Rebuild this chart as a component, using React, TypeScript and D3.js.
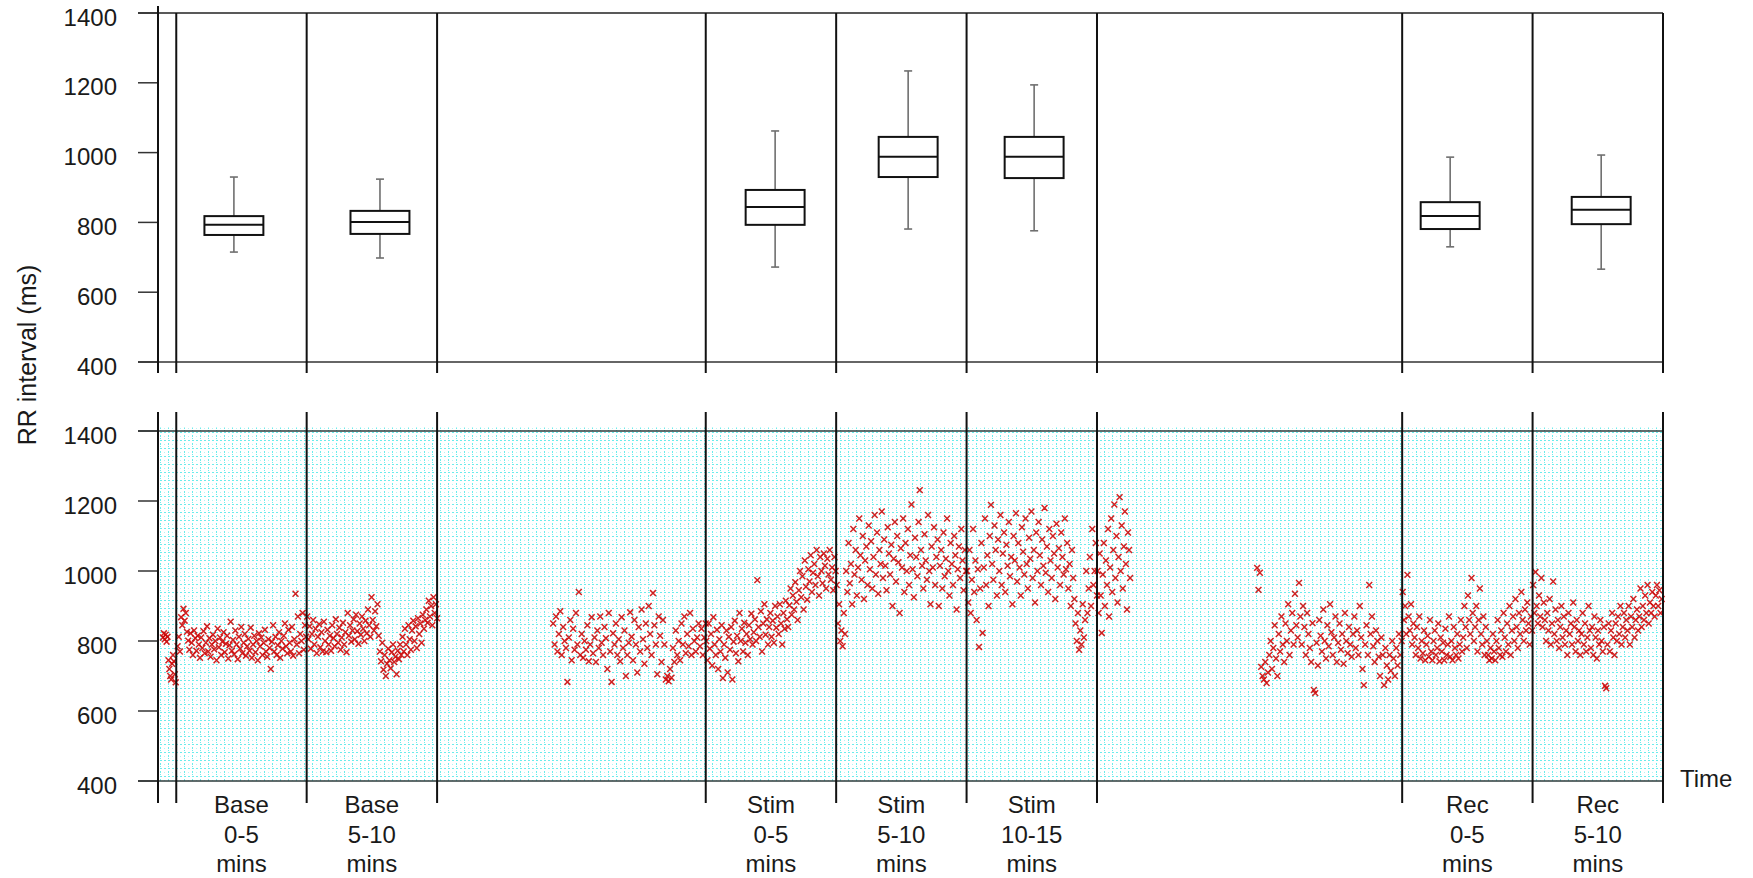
import React from "react";
import * as d3 from "d3";

// ---------- data ----------
const yTicks = [400, 600, 800, 1000, 1200, 1400];
// period boundaries (minutes on the time axis)
const boundaries = [0, 5, 10, 20.3, 25.3, 30.3, 35.3, 47, 52, 57];
const timeStart = -0.7;
const timeEnd = 57;

const labelStart = [0, 5, 20.3, 25.3, 30.3, 47, 52];
const labelEnd = [5, 10, 25.3, 30.3, 35.3, 52, 57];
const labelLine1 = ["Base", "Base", "Stim", "Stim", "Stim", "Rec", "Rec"];
const labelLine2 = ["0-5", "5-10", "0-5", "5-10", "10-15", "0-5", "5-10"];
const labelLine3 = ["mins", "mins", "mins", "mins", "mins", "mins", "mins"];

// box plots (ms)
const boxTime = [2.21, 7.81, 22.96, 28.06, 32.89, 48.84, 54.63];
const boxMin = [715, 698, 672, 781, 776, 730, 666];
const boxQ1 = [764, 767, 793, 930, 927, 781, 795];
const boxMedian = [793, 801, 844, 988, 988, 818, 836];
const boxQ3 = [818, 833, 893, 1045, 1045, 858, 873];
const boxMax = [930, 924, 1062, 1234, 1194, 987, 993];

// RR series per recording stretch (ms), start/end in minutes
const regionStart = [-0.51, 0.05, 5.02, 14.45, 20.32, 25.32, 30.32, 35.32, 41.44, 47.02, 52.02];
const regionEnd = [-0.02, 4.98, 10.0, 20.3, 25.28, 30.28, 35.3, 36.57, 46.98, 51.98, 56.95];

const rrPre = [810, 822, 805, 818, 798, 812, 745, 720, 700, 690, 735, 760, 742, 705, 682];
const rrBase1 = [
  785, 812, 770, 868, 845, 892, 858, 880, 826, 801,
  775, 822, 795, 760, 830, 808, 772, 815, 790, 752,
  810, 780, 828, 765, 795, 842, 770, 808, 755, 790,
  818, 776, 800, 745, 835, 782, 810, 760, 798, 825,
  768, 792, 815, 750, 788, 855, 772, 803, 762, 830,
  790, 748, 812, 778, 840, 765, 795, 820, 758, 785,
  806, 772, 838, 752, 790, 815, 768, 800, 745, 822,
  785, 810, 760, 795, 832, 770, 755, 805, 780, 720,
  798, 845, 770, 812, 760, 788, 825, 752, 800, 778,
  815, 850, 785, 765, 832, 795, 770, 840, 758, 805,
  935, 790, 870, 765, 820, 800, 880, 775, 845, 812,
];
const rrBase2 = [
  870, 805, 842, 778, 820, 860, 790, 835, 765, 812,
  848, 782, 825, 770, 855, 800, 768, 832, 790, 815,
  772, 845, 808, 785, 862, 820, 795, 838, 775, 810,
  852, 790, 825, 768, 880, 815, 845, 798, 830, 862,
  805, 875, 828, 792, 850, 818, 870, 835, 800, 858,
  822, 890, 845, 812, 925, 860, 830, 885, 842, 905,
  815, 770, 742, 795, 718, 760, 700, 735, 778, 745,
  722, 768, 790, 740, 755, 705, 772, 748, 790, 760,
  812, 770, 835, 790, 760, 845, 805, 775, 830, 858,
  800, 842, 780, 865, 820, 850, 795, 875, 835, 860,
  890, 852, 915, 870, 900, 845, 925, 880, 905, 865,
];
const rrPreStim = [
  850, 790, 870, 770, 820, 885, 760, 840, 800, 780,
  683, 810, 860, 745, 835, 775, 880, 790, 940, 760,
  820, 752, 800, 775, 845, 742, 790, 868, 765, 810,
  740, 830, 780, 870, 795, 760, 840, 808, 720, 880,
  770, 683, 822, 790, 850, 760, 805, 742, 868, 780,
  830, 700, 760, 795, 882, 812, 745, 860, 790, 710,
  840, 770, 890, 805, 735, 850, 780, 900, 820, 760,
  937, 845, 790, 705, 870, 815, 740, 860, 790, 690,
  700, 685, 720, 695, 780, 740, 830, 760, 800, 745,
  850, 790, 870, 765, 820, 785, 880, 760, 835, 800,
  770, 810, 850, 785, 835, 760, 810, 850,
];
const rrStim1 = [
  800, 745, 850, 778, 820, 730, 868, 790, 760, 832,
  720, 805, 770, 845, 694, 790, 752, 830, 710, 812,
  775, 840, 690, 798, 858, 765, 815, 742, 880, 800,
  835, 770, 852, 795, 820, 760, 845, 805, 878, 790,
  825, 862, 800, 974, 840, 812, 885, 770, 850, 905,
  818, 862, 790, 840, 880, 812, 858, 795, 900, 838,
  870, 820, 905, 850, 790, 880, 835, 915, 862, 840,
  902, 950, 875, 930, 890, 968, 912, 860, 945, 1000,
  925, 985, 890, 1030, 955, 918, 1005, 970, 1045, 940,
  995, 1020, 960, 1060, 985, 930, 1040, 1000, 965, 1050,
  1015, 950, 1035, 990, 1060, 975, 1010, 945, 1040, 1000,
];
const rrStim2 = [
  960, 850, 905, 800, 830, 785, 880, 820, 1000, 940,
  1080, 965, 1020, 905, 1120, 990, 1060, 930, 1010, 1150,
  1045, 975, 1100, 920, 1030, 1070, 960, 1130, 1005, 1085,
  950, 1040, 1160, 990, 1110, 935, 1060, 1020, 1170, 980,
  1090, 1015, 945, 1125, 1050, 990, 1075, 900, 1035, 1140,
  970, 1100, 1025, 880, 1065, 1010, 1150, 940, 1080, 1000,
  1120, 960, 1045, 1190, 1005, 925, 1095, 1040, 985, 1140,
  1231, 1060, 1015, 950, 1105, 1030, 975, 1160, 1000, 905,
  1070, 1010, 1125, 960, 1040, 1090, 900, 1015, 1060, 950,
  1110, 985, 1035, 1150, 1000, 930, 1080, 1020, 960, 1100,
  1045, 890, 1005, 1070, 980, 1120, 1030, 945, 1060, 1000,
];
const rrStim3 = [
  1000, 910, 1060, 880, 975, 1120, 940, 1030, 860, 1005,
  783, 950, 1080, 823, 1010, 1150, 960, 1045, 900, 1100,
  1189, 1020, 975, 1130, 1060, 930, 1090, 1000, 1160, 960,
  1050, 1110, 940, 1075, 1015, 1140, 985, 1040, 905, 1100,
  1030, 1165, 970, 1080, 1010, 930, 1125, 1055, 990, 1150,
  1020, 950, 1095, 1035, 1170, 980, 1060, 910, 1110, 1000,
  1140, 1045, 960, 1090, 1015, 1180, 995, 1070, 940, 1120,
  1030, 980, 1100, 1050, 920, 1135, 1010, 1065, 960, 1110,
  1040, 990, 1150, 1005, 1080, 950, 1020, 900, 1060, 980,
  920, 850, 800, 880, 775, 830, 790, 905, 810, 860,
  1000, 880, 950, 1040, 900, 1120, 960, 1000, 1080, 930,
];
const rrPostStim = [
  1000, 880, 1050, 930, 823, 990, 1080, 900, 1030, 960,
  1120, 870, 1010, 1150, 940, 1060, 1190, 980, 1100, 910,
  1040, 1211, 1000, 1130, 950, 1070, 1170, 1020, 890, 1110, 1060, 980,
];
const rrPreRec = [
  1009, 946, 995, 726, 700, 690, 740, 680, 710, 760,
  800, 720, 780, 845, 750, 700, 820, 770, 870, 790,
  740, 850, 800, 905, 760, 830, 880, 790, 935, 845,
  810, 966, 870, 790, 900, 840, 760, 880, 820, 780,
  740, 851, 660, 651, 795, 730, 860, 815, 770, 890,
  800, 750, 845, 785, 905, 825, 760, 810, 870, 740,
  795, 850, 775, 820, 735, 880, 800, 765, 840, 790,
  755, 820, 870, 780, 830, 760, 900, 810, 720, 674,
  790, 845, 760, 960, 820, 870, 785, 740, 830, 800,
  755, 700, 810, 760, 674, 780, 730, 690, 760, 715,
  800, 750, 700, 780, 730, 820, 760, 800,
];
const rrRec1 = [
  940, 860, 900, 820, 989, 870, 830, 905, 790, 850,
  810, 760, 840, 780, 870, 750, 800, 765, 830, 745,
  790, 815, 755, 860, 770, 745, 800, 830, 760, 780,
  850, 742, 810, 770, 795, 745, 835, 760, 790, 870,
  755, 800, 745, 840, 780, 760, 820, 750, 790, 860,
  770, 810, 900, 840, 780, 930, 860, 820, 980, 880,
  800, 840, 900, 770, 860, 950, 820, 790, 870, 760,
  840, 800, 760, 745, 780, 750, 820, 770, 745, 800,
  860, 780, 760, 830, 755, 880, 810, 770, 850, 790,
  900, 760, 830, 870, 800, 920, 840, 780, 880, 820,
  940, 860, 800, 890, 830, 910, 850, 790, 870, 830,
];
const rrRec2 = [
  960, 880, 997, 900, 850, 930, 870, 980, 840, 910,
  860, 800, 880, 830, 920, 790, 850, 970, 820, 890,
  800, 860, 780, 840, 900, 810, 870, 790, 830, 760,
  880, 820, 850, 790, 910, 840, 770, 860, 800, 830,
  760, 820, 880, 790, 850, 770, 810, 900, 830, 780,
  840, 760, 870, 810, 750, 830, 790, 860, 800, 770,
  840, 672, 665, 790, 850, 770, 830, 880, 810, 760,
  850, 800, 870, 820, 900, 790, 840, 880, 810, 860,
  830, 900, 790, 870, 840, 920, 810, 860, 890, 830,
  870, 950, 840, 900, 860, 930, 880, 960, 850, 910,
  880, 940, 900, 870, 930, 960, 900, 945, 880, 920,
];
const rrRegions = [rrPre, rrBase1, rrBase2, rrPreStim, rrStim1, rrStim2, rrStim3, rrPostStim, rrPreRec, rrRec1, rrRec2];

// ---------- layout ----------
const W = 1753;
const H = 878;
const FONT = "'Liberation Sans', Arial, Helvetica, sans-serif";

export default function App() {
  const x = d3.scaleLinear().domain([timeStart, timeEnd]).range([158, 1663]);
  const yTop = d3.scaleLinear().domain([400, 1400]).range([362, 13]);
  const yBot = d3.scaleLinear().domain([400, 1400]).range([781, 431]);

  const symType: any = (d3 as any).symbolTimes || d3.symbolCross;
  const marker = d3.symbol().type(symType).size(24)() as string;

  const boxHalf = (x(2.26) - x(0)) / 2;
  const capHalf = 4;
  const axisX = x(timeStart);
  const rightX = x(timeEnd);

  const points: { px: number; py: number; k: string }[] = [];
  rrRegions.forEach((arr, ri) => {
    const s = regionStart[ri];
    const e = regionEnd[ri];
    const n = arr.length;
    arr.forEach((v, i) => {
      const t = n > 1 ? s + ((e - s) * i) / (n - 1) : s;
      points.push({ px: x(t), py: yBot(v), k: `${ri}-${i}` });
    });
  });

  return (
    <svg
      width={W}
      height={H}
      style={{ position: "absolute", left: 0, top: 0, display: "block", background: "#fff" }}
      fontFamily={FONT}
    >
      <defs>
        <pattern id="cyanGrid" x="0" y="0" width="8" height="8" patternUnits="userSpaceOnUse">
          <rect width="8" height="8" fill="#ffffff" />
          <g shapeRendering="crispEdges" fill="#6cecec">
            <rect x="0" y="0" width="2" height="1" />
            <rect x="4" y="0" width="2" height="1" />
            <rect x="0" y="3" width="1" height="2" />
            <rect x="0" y="6" width="1" height="1" />
          </g>
          <rect x="4" y="4" width="1" height="1" fill="#b6f4f4" />
        </pattern>
      </defs>

      {/* ---------- TOP PANEL ---------- */}
      <line x1={138} x2={rightX} y1={yTop(1400)} y2={yTop(1400)} stroke="#222" strokeWidth={1.5} />
      <line x1={138} x2={rightX} y1={yTop(400)} y2={yTop(400)} stroke="#333" strokeWidth={1.5} />
      {yTicks.map((t) => (
        <g key={"tt" + t}>
          <line x1={138} x2={axisX} y1={yTop(t)} y2={yTop(t)} stroke="#333" strokeWidth={1.5} />
          <text x={117} y={yTop(t) + 12.5} textAnchor="end" fontSize={24} fill="#1a1a1a">
            {t}
          </text>
        </g>
      ))}
      <line x1={axisX} x2={axisX} y1={6} y2={373} stroke="#111" strokeWidth={2} />
      {boundaries.map((b, i) => (
        <line key={"tv" + i} x1={x(b)} x2={x(b)} y1={13} y2={373} stroke="#111" strokeWidth={2} />
      ))}
      {boxTime.map((t, i) => {
        const cx = x(t);
        return (
          <g key={"box" + i}>
            <line x1={cx} x2={cx} y1={yTop(boxMax[i])} y2={yTop(boxQ3[i])} stroke="#6f6f6f" strokeWidth={1.6} />
            <line x1={cx} x2={cx} y1={yTop(boxQ1[i])} y2={yTop(boxMin[i])} stroke="#6f6f6f" strokeWidth={1.6} />
            <line x1={cx - capHalf} x2={cx + capHalf} y1={yTop(boxMax[i])} y2={yTop(boxMax[i])} stroke="#6f6f6f" strokeWidth={1.6} />
            <line x1={cx - capHalf} x2={cx + capHalf} y1={yTop(boxMin[i])} y2={yTop(boxMin[i])} stroke="#6f6f6f" strokeWidth={1.6} />
            <rect
              x={cx - boxHalf}
              y={yTop(boxQ3[i])}
              width={boxHalf * 2}
              height={yTop(boxQ1[i]) - yTop(boxQ3[i])}
              fill="#fff"
              stroke="#111"
              strokeWidth={2}
            />
            <line x1={cx - boxHalf} x2={cx + boxHalf} y1={yTop(boxMedian[i])} y2={yTop(boxMedian[i])} stroke="#111" strokeWidth={2} />
          </g>
        );
      })}

      {/* ---------- BOTTOM PANEL ---------- */}
      <rect x={axisX} y={yBot(1410)} width={rightX - axisX} height={yBot(400) - yBot(1410)} fill="url(#cyanGrid)" />
      <line x1={138} x2={rightX} y1={yBot(1400)} y2={yBot(1400)} stroke="#2d3b3b" strokeWidth={1.5} />
      <line x1={138} x2={rightX} y1={yBot(400)} y2={yBot(400)} stroke="#2d3b3b" strokeWidth={1.5} />
      {yTicks.map((t) => (
        <g key={"bt" + t}>
          <line x1={138} x2={axisX} y1={yBot(t)} y2={yBot(t)} stroke="#333" strokeWidth={1.5} />
          <text x={117} y={yBot(t) + 12.5} textAnchor="end" fontSize={24} fill="#1a1a1a">
            {t}
          </text>
        </g>
      ))}
      <g>
        {points.map((p) => (
          <path
            key={p.k}
            d={marker}
            transform={`translate(${p.px},${p.py})`}
            fill="none"
            stroke="#cc0a0a"
            strokeWidth={1.5}
            opacity={0.9}
          />
        ))}
      </g>
      <line x1={axisX} x2={axisX} y1={412} y2={803} stroke="#111" strokeWidth={2} />
      {boundaries.map((b, i) => (
        <line key={"bv" + i} x1={x(b)} x2={x(b)} y1={412} y2={803} stroke="#111" strokeWidth={2} />
      ))}

      {/* period labels */}
      {labelStart.map((s, i) => {
        const cx = x((s + labelEnd[i]) / 2);
        return (
          <text key={"lab" + i} textAnchor="middle" fontSize={24} fill="#1a1a1a">
            <tspan x={cx} y={813}>{labelLine1[i]}</tspan>
            <tspan x={cx} y={842.5}>{labelLine2[i]}</tspan>
            <tspan x={cx} y={872}>{labelLine3[i]}</tspan>
          </text>
        );
      })}
      <text x={1680} y={787} fontSize={24} fill="#1a1a1a">
        Time
      </text>

      {/* y axis label */}
      <text
        transform="translate(27,355) rotate(-90)"
        textAnchor="middle"
        dominantBaseline="central"
        fontSize={25}
        fill="#1a1a1a"
      >
        RR interval (ms)
      </text>
    </svg>
  );
}
